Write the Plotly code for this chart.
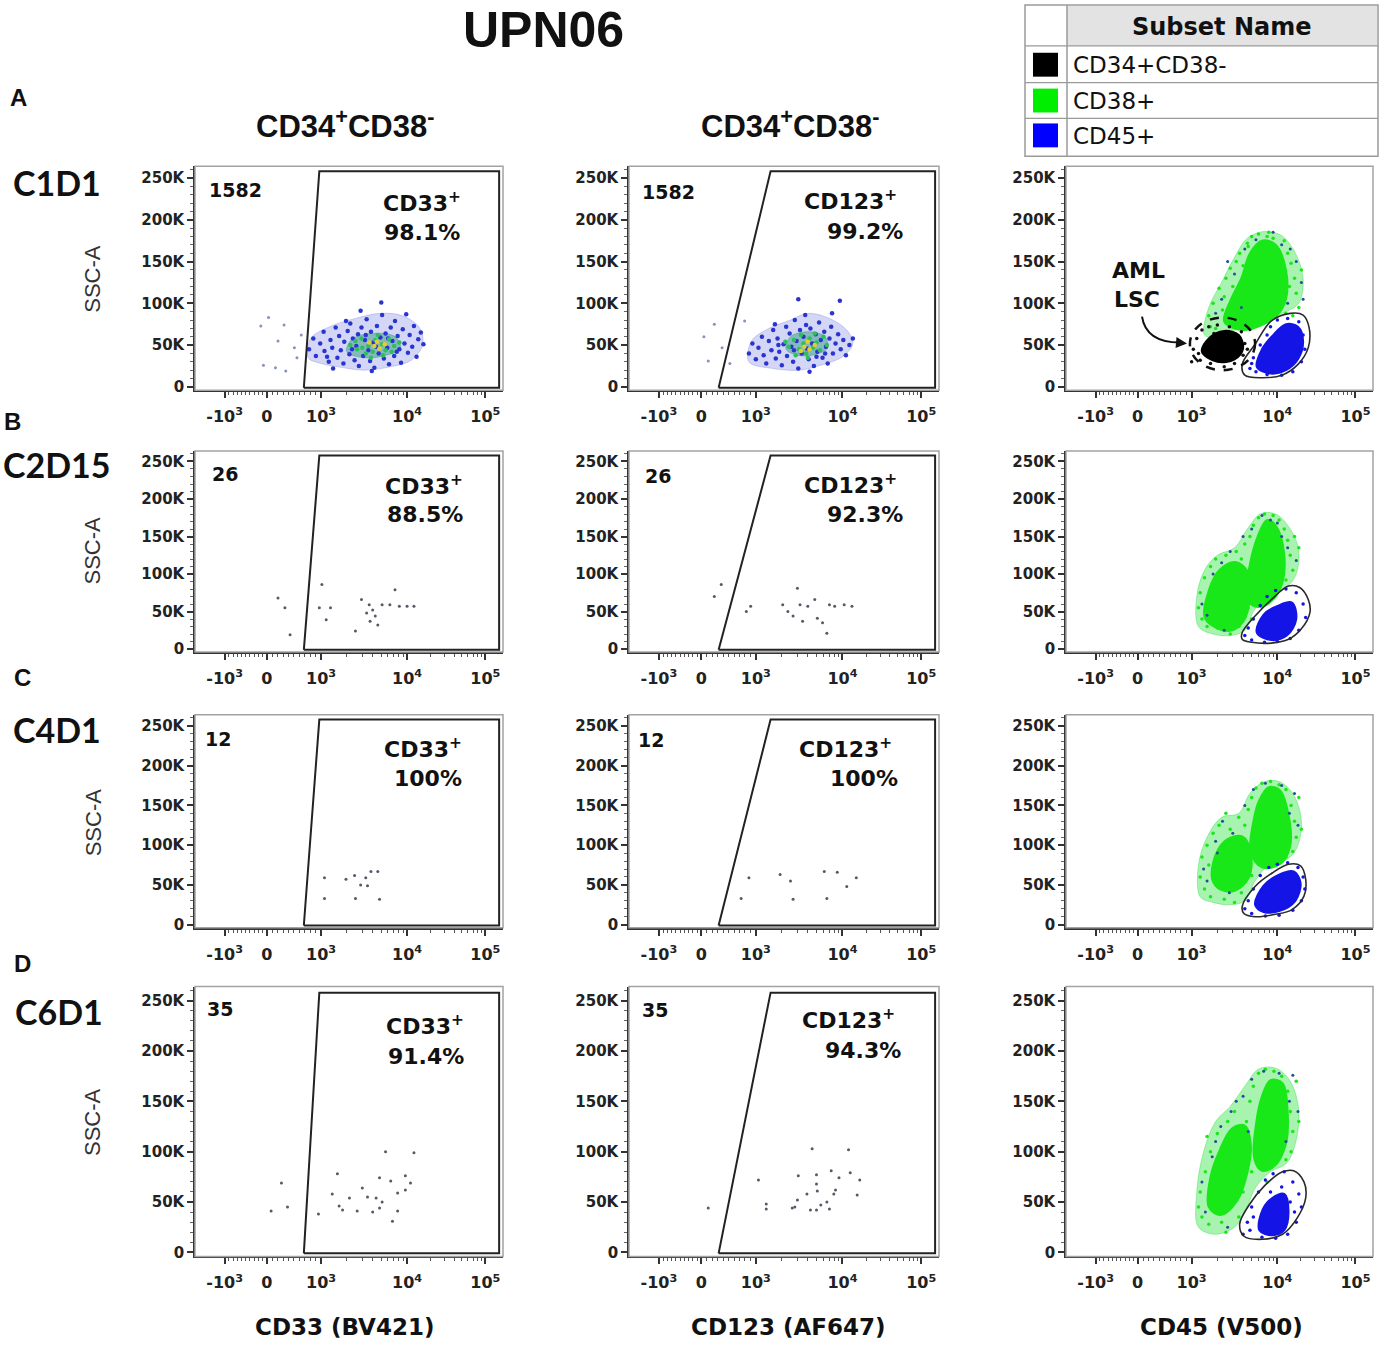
"""
UPN06 flow cytometry panel: CD34+CD38- blasts gated on CD33 / CD123,
and the CD45 vs SSC overview with the AML LSC population, at four timepoints.
Points and gates are read off the published figure (display units:
x = biexponential position, 10^3 -> 3, 10^4 -> 4; y = SSC-A in thousands).
"""
import math

import plotly.graph_objects as go

W, H = 1380, 1348

# ---- labels --------------------------------------------------------------
ROW_LETTERS = ["A", "B", "C", "D"]
TIMEPOINTS = ["C1D1", "C2D15", "C4D1", "C6D1"]
EVENT_COUNTS = ["1582", "26", "12", "35"]
CD33_PCT = [98.1, 88.5, 100, 91.4]
CD123_PCT = [99.2, 92.3, 100, 94.3]
X_TITLES = ["CD33 (BV421)", "CD123 (AF647)", "CD45 (V500)"]
SUBSET_NAMES = ["CD34+CD38-", "CD38+", "CD45+"]
SUBSET_COLORS = ["#000000", "#00ee00", "#0000ff"]

X_TICKVALS = [1.88, 2.37, 3.0, 4.0, 4.91]
X_TICKTEXT = ["-10<sup>3</sup>", "0", "10<sup>3</sup>", "10<sup>4</sup>", "10<sup>5</sup>"]
Y_TICKVALS = [0, 50, 100, 150, 200, 250]
Y_TICKTEXT = ["0", "50K", "100K", "150K", "200K", "250K"]

# ---- gates ---------------------------------------------------------------
cd33_gate = [(2.80, -1), (2.98, 258), (5.07, 258), (5.07, -1), (2.80, -1)]
cd123_gate = [(2.57, -1), (3.17, 258), (5.07, 258), (5.07, -1), (2.57, -1)]
lsc_gate_x = [2.98, 3.74]
lsc_gate_y = [20, 83]
cd45_gate_a = [(3.59, 27), (3.74, 51), (3.93, 79), (4.15, 88), (4.30, 86), (4.37, 71),
               (4.36, 47), (4.24, 27), (4.05, 14), (3.82, 11), (3.62, 14)]
cd45_gate_b = [(3.59, 22), (3.74, 44), (3.93, 66), (4.13, 84), (4.26, 82), (4.36, 66),
               (4.38, 49), (4.28, 27), (4.13, 13), (3.93, 8), (3.70, 9), (3.59, 13)]
cd45_gate_c = [(3.59, 23), (3.74, 48), (3.94, 65), (4.13, 76), (4.27, 74), (4.33, 57),
               (4.31, 36), (4.17, 19), (3.98, 13), (3.74, 10), (3.61, 14)]
cd45_gate_d = [(3.56, 28), (3.67, 47), (3.86, 67), (4.06, 80), (4.19, 81), (4.31, 70),
               (4.33, 54), (4.23, 34), (4.06, 18), (3.83, 13), (3.61, 16)]

# ---- row A, CD33 / CD123 (pseudocolour dots) ------------------------------
a1_halo = [(2.85, 35), (2.88, 58), (3.10, 72), (3.40, 82), (3.70, 88), (3.95, 85), (4.15, 70),
           (4.18, 50), (4.05, 32), (3.80, 24), (3.50, 20), (3.20, 24), (3.00, 28)]
a1_dense = [(3.30, 42), (3.36, 57), (3.60, 64), (3.86, 60), (3.92, 46), (3.72, 37), (3.50, 35)]
a1_blue = [(2.86, 45), (2.91, 58), (2.94, 37), (2.99, 52), (3.03, 66), (3.04, 43), (3.09, 30),
           (3.11, 56), (3.13, 47), (3.17, 71), (3.19, 35), (3.21, 61), (3.23, 44), (3.26, 28),
           (3.27, 54), (3.31, 67), (3.33, 39), (3.34, 76), (3.37, 58), (3.39, 32), (3.41, 49),
           (3.43, 63), (3.44, 25), (3.47, 71), (3.49, 37), (3.51, 56), (3.53, 81), (3.55, 44),
           (3.57, 31), (3.58, 66), (3.61, 53), (3.62, 23), (3.65, 73), (3.67, 40), (3.69, 59),
           (3.71, 86), (3.73, 34), (3.75, 64), (3.77, 47), (3.79, 27), (3.81, 71), (3.83, 55),
           (3.85, 37), (3.86, 79), (3.89, 61), (3.91, 45), (3.93, 29), (3.95, 69), (3.97, 52),
           (3.99, 87), (4.01, 41), (4.03, 62), (4.06, 48), (4.08, 73), (4.11, 36), (4.13, 57),
           (4.16, 65), (3.46, 91), (3.70, 101), (3.59, 19), (3.29, 79), (3.14, 22), (4.19, 51),
           (3.07, 36), (3.36, 45), (3.64, 48), (3.88, 42), (3.52, 62), (3.78, 58)]
a1_green = [(3.34, 50), (3.42, 45), (3.47, 58), (3.55, 49), (3.60, 42), (3.63, 56), (3.71, 51),
            (3.75, 44), (3.79, 57), (3.85, 49), (3.52, 40), (3.66, 62), (3.40, 55), (3.91, 53),
            (3.58, 35), (3.72, 38), (3.48, 47), (3.82, 42)]
a1_core = [(3.62, 49), (3.68, 46), (3.56, 53), (3.74, 51), (3.65, 54)]
a1_stray = [(2.30, 73), (2.39, 83), (2.47, 23), (2.59, 19), (2.69, 47), (2.33, 26), (2.57, 74),
            (2.77, 62), (2.50, 55), (2.72, 35)]

a2_halo = [(2.92, 30), (2.95, 55), (3.15, 70), (3.40, 80), (3.60, 88), (3.85, 82), (4.05, 68),
           (4.12, 52), (4.00, 36), (3.75, 26), (3.50, 20), (3.20, 22)]
a2_dense = [(3.35, 45), (3.40, 60), (3.60, 66), (3.80, 60), (3.82, 46), (3.65, 38), (3.48, 38)]
a2_blue = [(2.92, 40), (2.96, 52), (3.00, 33), (3.03, 47), (3.07, 60), (3.09, 38), (3.12, 28),
           (3.15, 55), (3.18, 44), (3.20, 68), (3.23, 34), (3.25, 58), (3.27, 42), (3.30, 26),
           (3.32, 51), (3.35, 72), (3.36, 37), (3.39, 64), (3.41, 48), (3.43, 30), (3.45, 80),
           (3.47, 55), (3.49, 22), (3.51, 68), (3.53, 40), (3.55, 60), (3.57, 86), (3.59, 46),
           (3.61, 33), (3.63, 70), (3.65, 52), (3.67, 25), (3.69, 63), (3.71, 42), (3.73, 77),
           (3.75, 56), (3.77, 35), (3.79, 66), (3.81, 48), (3.83, 28), (3.85, 58), (3.87, 72),
           (3.89, 40), (3.92, 52), (3.95, 63), (3.98, 45), (4.01, 56), (4.04, 38), (4.08, 50),
           (4.12, 58), (3.49, 105), (3.97, 103), (3.62, 18), (3.22, 75), (3.88, 88), (3.44, 44),
           (3.70, 36), (3.58, 74), (3.26, 50), (3.80, 40)]
a2_green = [(3.38, 48), (3.44, 56), (3.50, 45), (3.55, 52), (3.58, 40), (3.62, 58), (3.66, 47),
            (3.70, 53), (3.74, 44), (3.78, 60), (3.52, 62), (3.46, 38), (3.82, 50), (3.60, 35),
            (3.68, 64), (3.34, 54)]
a2_core = [(3.56, 48), (3.62, 45), (3.68, 50), (3.60, 54), (3.52, 43)]
a2_stray = [(2.52, 75), (2.45, 31), (2.61, 47), (2.87, 79), (2.40, 60), (2.70, 28)]

# ---- rows B-D, CD33 / CD123 (few events) ----------------------------------
b1_events = [(2.50, 68), (2.58, 55), (2.64, 19), (3.01, 86), (2.98, 55), (3.11, 55), (3.06, 39),
             (3.40, 24), (3.47, 66), (3.53, 48), (3.56, 59), (3.60, 52), (3.63, 44), (3.66, 32),
             (3.71, 59), (3.80, 59), (3.86, 79), (3.91, 57), (4.00, 57), (4.08, 57), (3.57, 37)]
b2_events = [(2.52, 70), (2.60, 86), (2.89, 50), (2.94, 57), (3.31, 59), (3.37, 50), (3.43, 44),
             (3.48, 81), (3.51, 59), (3.54, 37), (3.60, 57), (3.68, 66), (3.71, 41), (3.77, 35),
             (3.82, 21), (3.85, 59), (3.91, 57), (4.02, 59), (4.11, 57)]
c1_events = [(3.04, 59), (3.04, 33), (3.29, 57), (3.39, 62), (3.40, 33), (3.46, 50), (3.54, 49),
             (3.58, 67), (3.66, 67), (3.68, 32), (3.52, 59)]
c2_events = [(2.92, 59), (2.83, 33), (3.28, 63), (3.40, 55), (3.43, 32), (3.79, 67), (3.94, 66),
             (3.82, 33), (4.05, 48), (4.16, 59)]
d1_events = [(3.75, 100), (3.68, 74), (3.81, 71), (3.98, 76), (4.04, 69), (3.48, 64), (3.54, 55),
             (3.64, 54), (3.71, 50), (3.89, 59), (3.98, 62), (3.25, 42), (3.42, 41), (3.60, 40),
             (3.89, 41), (3.33, 54), (3.19, 78), (3.13, 58), (3.21, 46), (4.08, 99), (3.83, 31),
             (2.42, 41), (2.61, 45), (2.54, 69), (2.97, 38), (3.68, 44)]
d2_events = [(2.45, 44), (3.03, 72), (3.12, 48), (3.12, 43), (3.42, 44), (3.45, 45), (3.49, 76),
             (3.48, 52), (3.59, 58), (3.63, 42), (3.65, 103), (3.70, 77), (3.70, 68), (3.71, 61),
             (3.70, 42), (3.75, 47), (3.82, 50), (3.85, 43), (3.87, 81), (3.90, 58), (3.92, 62),
             (3.96, 74), (4.09, 79), (4.20, 72), (4.17, 57), (4.07, 102)]

# ---- CD45 vs SSC: event regions (halo = sparse, core = saturated) ----------
a3_green_halo = [(3.15, 62), (3.20, 95), (3.35, 125), (3.50, 155), (3.65, 178), (3.85, 186),
                 (4.05, 181), (4.20, 162), (4.30, 130), (4.25, 100), (4.10, 90), (3.92, 82),
                 (3.70, 74), (3.50, 68), (3.30, 60)]
a3_green_core = [[(3.38, 78), (3.46, 105), (3.58, 130), (3.68, 160), (3.82, 175), (3.98, 170),
                  (4.10, 140), (4.10, 105), (4.00, 86), (3.82, 74), (3.58, 68)]]
a3_black_core = [(3.12, 42), (3.20, 58), (3.38, 67), (3.55, 62), (3.60, 46), (3.50, 33), (3.30, 30)]
a3_blue_core = [(3.76, 24), (3.82, 45), (3.95, 62), (4.10, 75), (4.24, 72), (4.30, 55),
                (4.24, 33), (4.10, 20), (3.92, 16)]
a3_green_loose = [(3.20, 85), (3.25, 100), (3.28, 70), (3.32, 118), (3.36, 92), (3.30, 62),
                  (3.40, 130), (3.45, 142), (3.48, 120), (3.52, 150), (3.56, 160), (3.60, 145),
                  (3.65, 172), (3.70, 180), (3.78, 183), (3.90, 185), (3.95, 178), (4.08, 175),
                  (4.12, 160), (4.16, 148), (4.20, 130), (4.22, 112), (4.25, 95), (4.18, 85),
                  (4.10, 88), (4.14, 120), (4.28, 140), (3.38, 108), (3.46, 75), (3.66, 168),
                  (3.88, 180), (4.02, 150), (3.55, 115), (3.22, 72)]
a3_dark_loose = [(3.35, 105), (3.50, 135), (3.62, 165), (3.75, 176), (4.05, 170), (4.15, 165),
                 (4.22, 150), (4.28, 125), (4.12, 100), (3.28, 88), (3.42, 150), (3.95, 185),
                 (4.30, 105), (3.58, 95)]
a3_black_loose = [(3.02, 45), (3.06, 58), (3.10, 32), (3.12, 68), (3.20, 72), (3.30, 74),
                  (3.44, 72), (3.58, 66), (3.62, 52), (3.60, 38), (3.50, 28), (3.38, 24),
                  (3.22, 28), (3.08, 40), (3.15, 50), (3.65, 45), (3.00, 30), (3.26, 64),
                  (3.46, 42), (3.30, 46)]
a3_blue_loose = [(3.68, 22), (3.72, 35), (3.75, 18), (3.80, 50), (3.88, 62), (3.92, 72),
                 (4.00, 80), (4.12, 82), (4.25, 78), (4.30, 62), (4.32, 45), (4.28, 30),
                 (4.18, 18), (4.05, 14), (3.88, 15), (3.78, 30), (3.70, 28), (4.20, 48),
                 (4.00, 40), (3.90, 35), (4.15, 60)]

b3_green_halo = [(3.08, 30), (3.06, 70), (3.15, 105), (3.30, 125), (3.50, 135), (3.65, 160),
                 (3.80, 180), (3.98, 180), (4.15, 160), (4.25, 130), (4.20, 95), (4.05, 78),
                 (3.88, 70), (3.72, 50), (3.62, 25), (3.45, 18), (3.25, 20)]
b3_green_core = [[(3.16, 40), (3.20, 78), (3.33, 106), (3.51, 116), (3.65, 104), (3.68, 71),
                  (3.61, 38), (3.43, 24)],
                 [(3.64, 66), (3.68, 113), (3.77, 150), (3.88, 172), (3.99, 163), (4.08, 126),
                  (4.06, 89), (3.95, 66), (3.78, 56)]]
b3_blue_core = [(3.76, 22), (3.84, 46), (4.01, 58), (4.17, 62), (4.22, 40), (4.11, 18), (3.93, 12)]
b3_green_loose = [(3.08, 55), (3.10, 75), (3.12, 40), (3.15, 95), (3.18, 30), (3.22, 110),
                  (3.28, 120), (3.30, 28), (3.40, 125), (3.45, 20), (3.55, 30), (3.58, 120),
                  (3.62, 140), (3.68, 150), (3.72, 165), (3.78, 175), (3.85, 180), (3.95, 178),
                  (4.02, 172), (4.08, 160), (4.12, 145), (4.15, 125), (4.18, 105), (4.10, 92),
                  (4.20, 150), (3.66, 55), (3.60, 85), (3.52, 130), (3.20, 65), (3.70, 40),
                  (4.25, 135), (3.90, 75)]
b3_dark_loose = [(3.12, 60), (3.25, 100), (3.35, 115), (3.45, 130), (3.60, 150), (3.70, 160),
                 (3.82, 178), (4.00, 168), (4.12, 135), (4.22, 118), (3.18, 45), (3.38, 25),
                 (3.92, 172), (4.05, 150)]
b3_blue_loose = [(3.62, 18), (3.66, 28), (3.72, 40), (3.80, 58), (3.88, 70), (3.98, 78),
                 (4.10, 80), (4.22, 75), (4.30, 60), (4.33, 42), (4.25, 25), (4.15, 14),
                 (4.00, 10), (3.85, 9), (3.70, 12), (4.05, 35), (3.95, 25), (4.20, 50)]

c3_green_halo = [(3.10, 35), (3.08, 75), (3.18, 110), (3.35, 135), (3.55, 140), (3.68, 165),
                 (3.85, 180), (4.02, 180), (4.18, 165), (4.28, 130), (4.22, 95), (4.08, 80),
                 (3.90, 75), (3.74, 55), (3.62, 30), (3.45, 25), (3.25, 28)]
c3_green_core = [[(3.24, 57), (3.28, 88), (3.41, 107), (3.59, 111), (3.69, 92), (3.67, 60),
                  (3.51, 43), (3.34, 44)],
                 [(3.69, 90), (3.72, 130), (3.79, 157), (3.90, 173), (4.03, 169), (4.13, 138),
                  (4.15, 99), (4.03, 76), (3.82, 72)]]
c3_blue_core = [(3.74, 25), (3.84, 49), (4.02, 63), (4.19, 67), (4.27, 53), (4.21, 30),
                (4.02, 17), (3.84, 16)]
c3_green_loose = [(3.10, 60), (3.12, 85), (3.15, 45), (3.18, 100), (3.22, 35), (3.25, 115),
                  (3.32, 125), (3.38, 32), (3.45, 120), (3.50, 28), (3.58, 40), (3.62, 125),
                  (3.66, 145), (3.70, 160), (3.75, 172), (3.82, 178), (3.92, 180), (4.02, 176),
                  (4.10, 170), (4.16, 150), (4.20, 130), (4.22, 110), (4.18, 92), (4.10, 85),
                  (4.25, 160), (3.70, 62), (3.65, 100), (3.55, 135), (3.20, 75), (3.40, 140),
                  (4.28, 120), (3.95, 82)]
c3_dark_loose = [(3.14, 70), (3.28, 105), (3.36, 130), (3.48, 115), (3.62, 150), (3.72, 170),
                 (3.86, 178), (4.05, 175), (4.14, 140), (4.24, 125), (3.18, 55), (3.44, 40),
                 (4.20, 165), (3.30, 90)]
c3_blue_loose = [(3.62, 20), (3.66, 30), (3.72, 45), (3.80, 62), (3.90, 72), (4.00, 76),
                 (4.12, 78), (4.24, 72), (4.30, 60), (4.32, 45), (4.28, 30), (4.18, 18),
                 (4.02, 12), (3.86, 11), (3.70, 14), (4.08, 40), (3.95, 30), (4.22, 55)]

d3_green_halo = [(3.08, 25), (3.06, 60), (3.14, 100), (3.28, 130), (3.45, 145), (3.62, 165),
                 (3.78, 182), (3.98, 183), (4.15, 170), (4.25, 140), (4.20, 105), (4.10, 88),
                 (3.92, 80), (3.75, 65), (3.62, 40), (3.50, 25), (3.28, 18)]
d3_green_core = [[(3.20, 45), (3.22, 75), (3.33, 102), (3.47, 123), (3.62, 126), (3.69, 107),
                  (3.65, 79), (3.53, 51), (3.34, 37)],
                 [(3.73, 93), (3.75, 127), (3.82, 155), (3.92, 171), (4.06, 168), (4.12, 139),
                  (4.10, 108), (3.97, 86), (3.82, 81)]]
d3_blue_core = [(3.79, 22), (3.83, 43), (3.94, 54), (4.08, 58), (4.13, 41), (4.08, 22), (3.94, 17)]
d3_green_loose = [(3.08, 45), (3.10, 60), (3.12, 35), (3.16, 80), (3.20, 28), (3.22, 100),
                  (3.30, 118), (3.35, 30), (3.42, 130), (3.50, 140), (3.55, 35), (3.60, 60),
                  (3.64, 130), (3.68, 150), (3.72, 165), (3.78, 178), (3.86, 182), (3.96, 180),
                  (4.05, 175), (4.12, 160), (4.15, 140), (4.18, 120), (4.16, 100), (4.10, 92),
                  (4.22, 170), (3.70, 80), (3.58, 110), (3.48, 75), (3.26, 62), (3.40, 20),
                  (4.25, 130), (3.88, 70), (3.18, 115)]
d3_dark_loose = [(3.12, 70), (3.24, 95), (3.34, 125), (3.46, 140), (3.60, 155), (3.70, 172),
                 (3.84, 180), (4.02, 178), (4.14, 150), (4.24, 140), (3.16, 40), (3.42, 25),
                 (4.18, 176), (3.28, 110), (3.52, 150), (4.10, 110), (3.66, 120)]
d3_blue_loose = [(3.60, 18), (3.65, 30), (3.70, 45), (3.78, 60), (3.86, 72), (3.95, 78),
                 (4.08, 80), (4.18, 70), (4.25, 58), (4.28, 45), (4.22, 30), (4.12, 18),
                 (3.98, 14), (3.82, 15), (3.68, 22), (4.15, 50), (4.05, 65), (3.92, 60),
                 (3.72, 35), (4.20, 40)]

# ---- layout geometry (pixel boxes on the 1380 x 1348 page) ------------------
COL_PX = [(195, 503), (629, 939), (1066, 1373)]
ROW_PX = [(167, 392), (453, 655), (718, 932), (991, 1262)]
X_RANGE = [1.535, 5.115]
Y_RANGE = [-4, 264]

BLUE = "#1414e6"
LIME = "#18e818"
DARK = "#1f4f95"
DOT_BLUE = "#2a34d0"
DOT_GREEN = "#2cbf5a"
DOT_CORE = "#e2cf2a"

TICK_FONT = dict(family="DejaVu Sans", size=15, color="#222", weight="bold")
LABEL_FONT = "DejaVu Sans"
ARIAL = "Liberation Sans, Arial"


def px(x):
    return x / W


def py(y):
    return 1 - y / H


def axis_ids(k):
    return ("x", "y") if k == 1 else (f"x{k}", f"y{k}")


fig = go.Figure()


def dots(k, pts, color, size):
    xa, ya = axis_ids(k)
    xs, ys = zip(*pts)
    fig.add_trace(go.Scatter(x=xs, y=ys, mode="markers", xaxis=xa, yaxis=ya,
                             marker=dict(color=color, size=size, line=dict(width=0)),
                             hoverinfo="skip", showlegend=False))


def blob(k, pts, color, fill=None):
    xa, ya = axis_ids(k)
    ring = list(pts) + [pts[0]]
    xs, ys = zip(*ring)
    fig.add_trace(go.Scatter(x=xs, y=ys, mode="lines", fill="toself", fillcolor=fill or color,
                             xaxis=xa, yaxis=ya,
                             line=dict(color=fill or color, width=1 if fill else 2,
                                       shape="spline", smoothing=1.0),
                             hoverinfo="skip", showlegend=False))


def outline(k, pts, color="#222", width=2, shape="linear"):
    xa, ya = axis_ids(k)
    ring = list(pts) if pts[0] == pts[-1] else list(pts) + [pts[0]]
    xs, ys = zip(*ring)
    fig.add_trace(go.Scatter(x=xs, y=ys, mode="lines", xaxis=xa, yaxis=ya,
                             line=dict(color=color, width=width, shape=shape, smoothing=1.0),
                             hoverinfo="skip", showlegend=False))


# column 1 / 2: CD34+CD38- events
for k, halo, dense, stray, blue, green, core in [
        (1, a1_halo, a1_dense, a1_stray, a1_blue, a1_green, a1_core),
        (2, a2_halo, a2_dense, a2_stray, a2_blue, a2_green, a2_core)]:
    blob(k, halo, DOT_BLUE, fill="rgba(60,70,215,0.22)")
    blob(k, dense, DOT_GREEN, fill="rgba(40,150,120,0.45)")
    dots(k, stray, "#8a90c0", 3)
    dots(k, blue, DOT_BLUE, 4.5)
    dots(k, green, DOT_GREEN, 4.5)
    dots(k, core, DOT_CORE, 4.5)

for k, ev in [(4, b1_events), (5, b2_events), (7, c1_events), (8, c2_events),
              (10, d1_events), (11, d2_events)]:
    dots(k, ev, "#555a66", 3)

for k in (1, 4, 7, 10):
    outline(k, cd33_gate)
for k in (2, 5, 8, 11):
    outline(k, cd123_gate)

# column 3: CD45 overview
col3 = [
    (3, a3_green_halo, a3_green_core, a3_blue_core, a3_green_loose, a3_dark_loose,
     a3_blue_loose, cd45_gate_a),
    (6, b3_green_halo, b3_green_core, b3_blue_core, b3_green_loose, b3_dark_loose,
     b3_blue_loose, cd45_gate_b),
    (9, c3_green_halo, c3_green_core, c3_blue_core, c3_green_loose, c3_dark_loose,
     c3_blue_loose, cd45_gate_c),
    (12, d3_green_halo, d3_green_core, d3_blue_core, d3_green_loose, d3_dark_loose,
     d3_blue_loose, cd45_gate_d),
]
for k, halo, green_core, blue_core, green_loose, dark_loose, blue_loose, gate in col3:
    blob(k, halo, LIME, fill="rgba(40,225,60,0.40)")
    dots(k, green_loose, LIME, 3.5)
    for lobe in green_core:
        blob(k, lobe, LIME)
    dots(k, dark_loose, DARK, 3)
    dots(k, blue_loose, BLUE, 3.5)
    blob(k, blue_core, BLUE)
    if k == 3:
        dots(3, a3_black_loose, "#111111", 3.5)
        blob(3, a3_black_core, "#000000")
    outline(k, gate, color="#2a2a2a", width=1.6, shape="spline")

# ---- axes ------------------------------------------------------------------
x_minor = [1.88 + 0.049 * i for i in range(1, 10)] + [2.37 + 0.063 * i for i in range(1, 10)]
x_minor += [3 + math.log10(m) for m in range(2, 10)] + [4 + 0.91 * math.log10(m) for m in range(2, 10)]

shapes = []
layout_axes = {}
for r, (top, bottom) in enumerate(ROW_PX):
    for c, (left, right) in enumerate(COL_PX):
        k = r * 3 + c + 1
        xa, ya = axis_ids(k)
        sfx = "" if k == 1 else str(k)
        layout_axes[f"xaxis{sfx}"] = dict(
            domain=[px(left), px(right)], range=X_RANGE, anchor=ya,
            tickmode="array", tickvals=X_TICKVALS, ticktext=X_TICKTEXT,
            ticks="outside", ticklen=6, tickwidth=1.5, tickcolor="#333",
            ticklabelstandoff=5,
            minor=dict(tickmode="array", tickvals=x_minor, ticks="outside",
                       ticklen=3, tickwidth=1, tickcolor="#555"),
            tickfont=dict(TICK_FONT, size=16), showline=True, linecolor="#333",
            linewidth=1.5, showgrid=False, zeroline=False, fixedrange=True,
        )
        layout_axes[f"yaxis{sfx}"] = dict(
            domain=[py(bottom), py(top)], range=Y_RANGE, anchor=xa,
            tickmode="array", tickvals=Y_TICKVALS, ticktext=Y_TICKTEXT,
            ticks="outside", ticklen=6, tickwidth=1.5, tickcolor="#333",
            minor=dict(dtick=10, tick0=0, ticks="outside", ticklen=3,
                       tickwidth=1, tickcolor="#666"),
            tickfont=TICK_FONT, showline=True, linecolor="#333", linewidth=1.5,
            showgrid=False, zeroline=False, fixedrange=True,
        )
        shapes.append(dict(type="rect", xref=f"{xa} domain", yref=f"{ya} domain",
                           x0=0, x1=1, y0=0, y1=1, line=dict(color="#a3a3a3", width=1.5)))

# dashed AML LSC gate
shapes.append(dict(type="circle", xref="x3", yref="y3",
                   x0=lsc_gate_x[0], x1=lsc_gate_x[1], y0=lsc_gate_y[0], y1=lsc_gate_y[1],
                   line=dict(color="#111", width=2.5, dash="dash")))

# curved arrow to the LSC gate
shapes.append(dict(type="path", xref="paper", yref="paper",
                   path=f"M {px(1142)} {py(318)} Q {px(1146)} {py(344)} {px(1180)} {py(344)}",
                   line=dict(color="#111", width=2)))

# subset legend table
shapes += [
    dict(type="rect", xref="paper", yref="paper", x0=px(1067), x1=px(1377), y0=py(46), y1=py(6),
         fillcolor="#e3e3e3", line=dict(width=0)),
    dict(type="rect", xref="paper", yref="paper", x0=px(1025), x1=px(1378), y0=py(157), y1=py(5),
         line=dict(color="#9a9a9a", width=1.5)),
    dict(type="line", xref="paper", yref="paper", x0=px(1067), x1=px(1067), y0=py(157), y1=py(5),
         line=dict(color="#9a9a9a", width=1.5)),
]
for yline in (46, 83, 119):
    shapes.append(dict(type="line", xref="paper", yref="paper", x0=px(1025), x1=px(1378),
                       y0=py(yline), y1=py(yline), line=dict(color="#9a9a9a", width=1.2)))
row_tops = [53, 89, 124]
for name, color, ytop in zip(SUBSET_NAMES, SUBSET_COLORS, row_tops):
    shapes.append(dict(type="rect", xref="paper", yref="paper", x0=px(1033), x1=px(1058),
                       y0=py(ytop + 24), y1=py(ytop), fillcolor=color, line=dict(width=0)))

# ---- text ------------------------------------------------------------------
annotations = []


def note(text, x, y, size, family=LABEL_FONT, bold=True, color="#111", **kw):
    annotations.append(dict(text=text, x=px(x), y=py(y), xref="paper", yref="paper",
                            showarrow=False, xanchor=kw.pop("xanchor", "center"),
                            yanchor="middle",
                            font=dict(family=family, size=size, color=color,
                                      weight="bold" if bold else "normal"), **kw))


note("UPN06", 543, 30, 50, family=ARIAL)
for letter, (x, y) in zip(ROW_LETTERS, [(18, 98), (12, 423), (22, 681), (22, 968)]):
    note(letter, x, y, 24, family=ARIAL)
for x in (345, 790):
    note("CD34<sup>+</sup>CD38<sup>-</sup>", x, 125, 31, family=ARIAL)
for tp, (x, y) in zip(TIMEPOINTS, [(57, 183), (57, 467), (57, 733), (59, 1016)]):
    note(tp, x, y, 34, family="Lato")
for y in (280, 553, 826, 1127):
    note("SSC-A", 93, y, 22, family=ARIAL, bold=False, color="#333", textangle=-90)
for title, x in zip(X_TITLES, (344, 788, 1221)):
    note(title, x, 1333, 23)

count_pos = [((235, 191), (668, 193)), ((225, 476), (658, 478)),
             ((218, 742), (651, 743)), ((220, 1014), (655, 1015))]
cd33_pos = [((422, 203), (422, 234)), ((424, 487), (425, 517)),
            ((423, 751), (428, 782)), ((425, 1030), (426, 1061))]
cd123_pos = [((850, 201), (865, 233)), ((850, 486), (865, 517)),
             ((845, 751), (864, 782)), ((848, 1024), (863, 1055))]
for r in range(4):
    for (x, y) in count_pos[r]:
        note(EVENT_COUNTS[r], x, y, 19)
    (x1, y1), (x2, y2) = cd33_pos[r]
    note("CD33<sup>+</sup>", x1, y1, 22)
    note(f"{CD33_PCT[r]:g}%", x2, y2, 22)
    (x1, y1), (x2, y2) = cd123_pos[r]
    note("CD123<sup>+</sup>", x1, y1, 22)
    note(f"{CD123_PCT[r]:g}%", x2, y2, 22)

note("AML", 1138, 272, 22)
note("LSC", 1137, 301, 22)
annotations.append(dict(x=px(1187), y=py(345), xref="paper", yref="paper", text="",
                        showarrow=True, ax=-12, ay=-1, arrowhead=2, arrowsize=1.1,
                        arrowwidth=2, arrowcolor="#111"))

note("Subset Name", 1222, 27, 24)
for name, y in zip(SUBSET_NAMES, (65, 101, 137)):
    note(name, 1071, y, 23, bold=False, xanchor="left")

fig.update_layout(
    width=W, height=H, margin=dict(l=0, r=0, t=0, b=0),
    paper_bgcolor="white", plot_bgcolor="white",
    showlegend=False, shapes=shapes, annotations=annotations,
    **layout_axes,
)

fig.write_html("out.html", config={"displayModeBar": False},
               post_script="document.body.style.margin='0';")
